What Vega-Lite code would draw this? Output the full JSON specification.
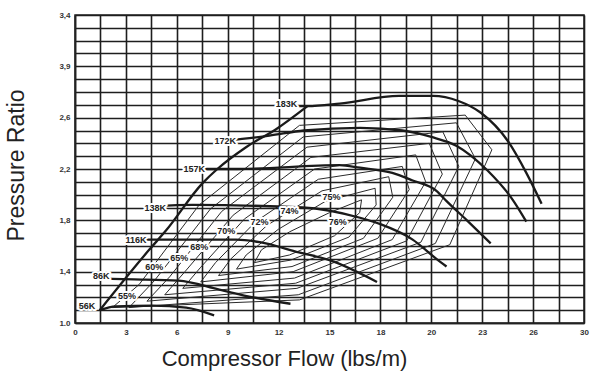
{
  "$schema": "https://vega.github.io/schema/vega-lite/v6.json",
  "width": 509,
  "height": 308,
  "autosize": "none",
  "padding": {"left": 75, "top": 15, "right": 16, "bottom": 52},
  "background": "white",
  "config": {
    "view": {"stroke": "#222", "strokeWidth": 1.5},
    "font": "Liberation Sans"
  },
  "datasets": {
    "eff": [
      {"c":"55","i":1,"x":2.2,"y":1.12},{"c":"55","i":2,"x":3.78,"y":1.30},{"c":"55","i":3,"x":7.32,"y":1.92},{"c":"55","i":4,"x":13.23,"y":2.54},{"c":"55","i":5,"x":23.0,"y":2.62},{"c":"55","i":6,"x":24.57,"y":2.35},{"c":"55","i":7,"x":22.09,"y":1.61},{"c":"55","i":8,"x":13.23,"y":1.18},
      {"c":"60","i":1,"x":3.18,"y":1.12},{"c":"60","i":2,"x":4.68,"y":1.33},{"c":"60","i":3,"x":7.99,"y":1.89},{"c":"60","i":4,"x":13.45,"y":2.45},{"c":"60","i":5,"x":22.48,"y":2.56},{"c":"60","i":6,"x":23.6,"y":2.28},{"c":"60","i":7,"x":21.24,"y":1.62},{"c":"60","i":8,"x":13.16,"y":1.22},
      {"c":"65","i":1,"x":4.24,"y":1.17},{"c":"65","i":2,"x":5.58,"y":1.36},{"c":"65","i":3,"x":8.65,"y":1.87},{"c":"65","i":4,"x":13.67,"y":2.37},{"c":"65","i":5,"x":21.68,"y":2.49},{"c":"65","i":6,"x":22.62,"y":2.22},{"c":"65","i":7,"x":20.39,"y":1.63},{"c":"65","i":8,"x":13.08,"y":1.27},
      {"c":"68","i":1,"x":5.29,"y":1.22},{"c":"68","i":2,"x":6.48,"y":1.40},{"c":"68","i":3,"x":9.32,"y":1.84},{"c":"68","i":4,"x":13.9,"y":2.29},{"c":"68","i":5,"x":20.88,"y":2.40},{"c":"68","i":6,"x":21.65,"y":2.16},{"c":"68","i":7,"x":19.55,"y":1.64},{"c":"68","i":8,"x":13.01,"y":1.31},
      {"c":"70","i":1,"x":6.35,"y":1.27},{"c":"70","i":2,"x":7.38,"y":1.43},{"c":"70","i":3,"x":9.98,"y":1.81},{"c":"70","i":4,"x":14.12,"y":2.20},{"c":"70","i":5,"x":20.08,"y":2.31},{"c":"70","i":6,"x":20.67,"y":2.10},{"c":"70","i":7,"x":18.7,"y":1.65},{"c":"70","i":8,"x":12.94,"y":1.35},
      {"c":"72","i":1,"x":7.41,"y":1.32},{"c":"72","i":2,"x":8.28,"y":1.47},{"c":"72","i":3,"x":10.65,"y":1.79},{"c":"72","i":4,"x":14.34,"y":2.12},{"c":"72","i":5,"x":19.29,"y":2.22},{"c":"72","i":6,"x":19.7,"y":2.04},{"c":"72","i":7,"x":17.85,"y":1.66},{"c":"72","i":8,"x":12.86,"y":1.40},
      {"c":"74","i":1,"x":8.46,"y":1.37},{"c":"74","i":2,"x":9.19,"y":1.50},{"c":"74","i":3,"x":11.31,"y":1.76},{"c":"74","i":4,"x":14.56,"y":2.03},{"c":"74","i":5,"x":18.49,"y":2.14},{"c":"74","i":6,"x":18.73,"y":1.98},{"c":"74","i":7,"x":17.0,"y":1.66},{"c":"74","i":8,"x":12.79,"y":1.44},
      {"c":"75","i":1,"x":9.52,"y":1.42},{"c":"75","i":2,"x":10.09,"y":1.53},{"c":"75","i":3,"x":11.98,"y":1.73},{"c":"75","i":4,"x":14.78,"y":1.95},{"c":"75","i":5,"x":17.69,"y":2.05},{"c":"75","i":6,"x":17.75,"y":1.92},{"c":"75","i":7,"x":16.15,"y":1.67},{"c":"75","i":8,"x":12.71,"y":1.49},
      {"c":"76","i":1,"x":10.57,"y":1.47},{"c":"76","i":2,"x":10.99,"y":1.57},{"c":"76","i":3,"x":12.64,"y":1.71},{"c":"76","i":4,"x":15.0,"y":1.86},{"c":"76","i":5,"x":16.89,"y":1.96},{"c":"76","i":6,"x":16.78,"y":1.86},{"c":"76","i":7,"x":15.3,"y":1.68},{"c":"76","i":8,"x":12.64,"y":1.53}
    ],
    "speed": [
      {"s":"surge","i":1,"x":1.46,"y":1.10},{"s":"surge","i":2,"x":4.37,"y":1.57},{"s":"surge","i":3,"x":5.36,"y":1.72},{"s":"surge","i":4,"x":7.52,"y":2.09},{"s":"surge","i":5,"x":8.39,"y":2.20},{"s":"surge","i":6,"x":10.08,"y":2.37},{"s":"surge","i":7,"x":11.85,"y":2.51},{"s":"surge","i":8,"x":13.7,"y":2.69},
      {"s":"56K","i":1,"x":1.46,"y":1.10},{"s":"56K","i":2,"x":2.4,"y":1.13},{"s":"56K","i":3,"x":4.56,"y":1.135},{"s":"56K","i":4,"x":6.55,"y":1.12},{"s":"56K","i":5,"x":8.2,"y":1.06},
      {"s":"86K","i":1,"x":1.54,"y":1.345},{"s":"86K","i":2,"x":3.48,"y":1.34},{"s":"86K","i":3,"x":6.1,"y":1.33},{"s":"86K","i":4,"x":8.5,"y":1.26},{"s":"86K","i":5,"x":10.5,"y":1.20},{"s":"86K","i":6,"x":12.7,"y":1.15},
      {"s":"116K","i":1,"x":3.6,"y":1.65},{"s":"116K","i":2,"x":4.96,"y":1.65},{"s":"116K","i":3,"x":9.5,"y":1.65},{"s":"116K","i":4,"x":10.9,"y":1.63},{"s":"116K","i":5,"x":13.2,"y":1.55},{"s":"116K","i":6,"x":15.0,"y":1.49},{"s":"116K","i":7,"x":17.8,"y":1.32},
      {"s":"138K","i":1,"x":4.73,"y":1.91},{"s":"138K","i":2,"x":6.93,"y":1.92},{"s":"138K","i":3,"x":13.4,"y":1.90},{"s":"138K","i":4,"x":16.8,"y":1.82},{"s":"138K","i":5,"x":18.0,"y":1.77},{"s":"138K","i":6,"x":19.9,"y":1.65},{"s":"138K","i":7,"x":21.3,"y":1.50},{"s":"138K","i":8,"x":21.9,"y":1.44},
      {"s":"157K","i":1,"x":7.03,"y":2.20},{"s":"157K","i":2,"x":9.57,"y":2.20},{"s":"157K","i":3,"x":15.6,"y":2.23},{"s":"157K","i":4,"x":16.8,"y":2.21},{"s":"157K","i":5,"x":18.7,"y":2.17},{"s":"157K","i":6,"x":19.9,"y":2.11},{"s":"157K","i":7,"x":21.3,"y":2.03},{"s":"157K","i":8,"x":21.9,"y":1.95},{"s":"157K","i":9,"x":23.1,"y":1.80},{"s":"157K","i":10,"x":24.5,"y":1.62},
      {"s":"172K","i":1,"x":8.86,"y":2.42},{"s":"172K","i":2,"x":11.46,"y":2.46},{"s":"172K","i":3,"x":13.5,"y":2.50},{"s":"172K","i":4,"x":16.8,"y":2.52},{"s":"172K","i":5,"x":19.3,"y":2.50},{"s":"172K","i":6,"x":21.0,"y":2.45},{"s":"172K","i":7,"x":22.5,"y":2.38},{"s":"172K","i":8,"x":24.3,"y":2.19},{"s":"172K","i":9,"x":25.8,"y":1.96},{"s":"172K","i":10,"x":26.6,"y":1.79},
      {"s":"183K","i":1,"x":12.46,"y":2.69},{"s":"183K","i":2,"x":13.7,"y":2.69},{"s":"183K","i":3,"x":15.6,"y":2.71},{"s":"183K","i":4,"x":19.1,"y":2.77},{"s":"183K","i":5,"x":21.1,"y":2.77},{"s":"183K","i":6,"x":22.6,"y":2.73},{"s":"183K","i":7,"x":23.9,"y":2.64},{"s":"183K","i":8,"x":25.5,"y":2.42},{"s":"183K","i":9,"x":26.6,"y":2.17},{"s":"183K","i":10,"x":27.5,"y":1.93}
    ],
    "labels": [
      {"t":"56K","x":0.71,"y":1.13},{"t":"86K","x":1.54,"y":1.365},{"t":"116K","x":3.6,"y":1.645},{"t":"138K","x":4.73,"y":1.894},{"t":"157K","x":7.03,"y":2.2},{"t":"172K","x":8.86,"y":2.415},{"t":"183K","x":12.46,"y":2.71},
      {"t":"55%","x":3.07,"y":1.21},{"t":"60%","x":4.67,"y":1.435},{"t":"65%","x":6.14,"y":1.505},{"t":"68%","x":7.32,"y":1.59},{"t":"70%","x":8.92,"y":1.715},{"t":"72%","x":10.87,"y":1.785},{"t":"74%","x":12.64,"y":1.87},{"t":"75%","x":15.12,"y":1.98},{"t":"76%","x":15.48,"y":1.79}
    ]
  },
  "resolve": {"axis": {"x": "independent", "y": "independent"}},
  "layer": [
    {
      "data": {"name": "eff"},
      "mark": {"type": "line", "interpolate": "linear-closed", "stroke": "#2a2a2a", "strokeWidth": 1},
      "encoding": {
        "x": {
          "field": "x", "type": "quantitative",
          "scale": {"domain": [0, 30], "nice": false, "zero": false},
          "axis": {
            "orient": "bottom",
            "values": [0,1.5,3,4.5,6,7.5,9,10.5,12,13.5,15,16.5,18,19.5,21,22.5,24,25.5,27,28.5,30],
            "grid": true, "gridColor": "#1e1e1e", "gridWidth": 1.6, "gridOpacity": 1,
            "labels": false, "ticks": false, "domain": false, "title": null
          }
        },
        "y": {
          "field": "y", "type": "quantitative",
          "scale": {"domain": [1, 3.4], "nice": false, "zero": false},
          "axis": {
            "orient": "left",
            "values": [1.0,1.1,1.2,1.3,1.4,1.5,1.6,1.7,1.8,1.9,2.0,2.1,2.2,2.3,2.4,2.5,2.6,2.7,2.8,2.9,3.0,3.1,3.2,3.3,3.4],
            "grid": true, "gridColor": "#1e1e1e", "gridWidth": 1.6, "gridOpacity": 1,
            "labels": false, "ticks": false, "domain": false, "title": null
          }
        },
        "detail": {"field": "c"},
        "order": {"field": "i", "type": "quantitative"}
      }
    },
    {
      "data": {"name": "speed"},
      "mark": {"type": "line", "interpolate": "monotone", "stroke": "#1a1a1a", "strokeWidth": 2.3},
      "encoding": {
        "x": {
          "field": "x", "type": "quantitative",
          "axis": {
            "orient": "bottom",
            "values": [0,3,6,9,12,15,18,21,24,27,30],
            "labelExpr": "datum.value == 21 ? '20' : datum.value == 24 ? '23' : datum.value == 27 ? '26' : '' + datum.value",
            "grid": false, "ticks": false, "domainColor": "#222", "domainWidth": 1.5,
            "labelOverlap": false, "labelFlush": false, "labelPadding": 5,
            "labelFont": "Liberation Sans", "labelFontSize": 8, "labelFontWeight": "bold", "labelColor": "#333",
            "title": "Compressor Flow (lbs/m)", "titleFont": "Liberation Sans", "titleFontSize": 22, "titleFontWeight": "normal", "titleColor": "#222",
            "titleX": 209, "titleY": 42, "titleBaseline": "alphabetic", "titleAlign": "center"
          }
        },
        "y": {
          "field": "y", "type": "quantitative",
          "axis": {
            "orient": "left",
            "values": [1.0,1.4,1.8,2.2,2.6,3.0,3.4],
            "labelExpr": "datum.value == 1 ? '1.0' : datum.value == 3 ? '3,9' : replace(format(datum.value, '.1f'), '.', ',')",
            "grid": false, "ticks": false, "domainColor": "#222", "domainWidth": 1.5,
            "labelOverlap": false, "labelFlush": false, "labelPadding": 5,
            "labelFont": "Liberation Sans", "labelFontSize": 8, "labelFontWeight": "bold", "labelColor": "#333",
            "title": "Pressure Ratio", "titleFont": "Liberation Sans", "titleFontSize": 23, "titleFontWeight": "normal", "titleColor": "#222",
            "titleX": -52, "titleY": 150, "titleBaseline": "alphabetic", "titleAlign": "center", "titleAngle": 270
          }
        },
        "detail": {"field": "s"},
        "order": {"field": "i", "type": "quantitative"}
      }
    },
    {
      "data": {"name": "labels"},
      "mark": {"type": "text", "font": "Liberation Sans", "fontSize": 9, "fontWeight": "bold", "fill": "white", "stroke": "white", "strokeWidth": 4, "strokeJoin": "round"},
      "encoding": {
        "x": {"field": "x", "type": "quantitative", "axis": null},
        "y": {"field": "y", "type": "quantitative", "axis": null},
        "text": {"field": "t"}
      }
    },
    {
      "data": {"name": "labels"},
      "mark": {"type": "text", "font": "Liberation Sans", "fontSize": 9, "fontWeight": "bold", "fill": "#222"},
      "encoding": {
        "x": {"field": "x", "type": "quantitative", "axis": null},
        "y": {"field": "y", "type": "quantitative", "axis": null},
        "text": {"field": "t"}
      }
    }
  ]
}
